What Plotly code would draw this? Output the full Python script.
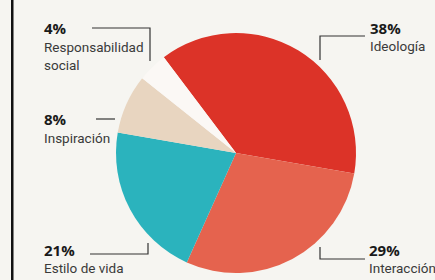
import plotly.graph_objects as go

labels = ["Ideología", "Interacción", "Estilo de vida", "Inspiración", "Responsabilidad social"]
values = [38, 29, 21, 8, 4]
pct_text = ["38%", "29%", "21%", "8%", "4%"]
name_text = ["Ideología", "Interacción", "Estilo de vida", "Inspiración", "Responsabilidad<br>social"]
colors = ["#dc3328", "#e5634e", "#2bb3bd", "#e8d5c0", "#fbf8f5"]

W, H = 435, 280
BG = "#f6f5f1"

def px(x):
    return x / W

def py(y):
    return 1 - y / H

cx, cy, r = 236, 153, 120

fig = go.Figure(go.Pie(
    labels=labels, values=values, sort=False, direction="clockwise",
    rotation=-37, textinfo="none", hoverinfo="label+percent",
    marker=dict(colors=colors, line=dict(width=0)),
    domain=dict(x=[px(cx - r), px(cx + r)], y=[py(cy + r), py(cy - r)]),
    showlegend=False,
))

# label positions in pixels: (x, pct_y, name_y)
label_pos = {
    "Ideología": (368, 28, 46),
    "Interacción": (367, 250, 268),
    "Estilo de vida": (42, 250, 268),
    "Inspiración": (42, 119, 138),
    "Responsabilidad social": (42, 28, 56),
}

annotations = []
for lab, pt, nt in zip(labels, pct_text, name_text):
    x, yp, yn = label_pos[lab]
    annotations.append(dict(x=px(x), y=py(yp), xref="paper", yref="paper", text="<b>" + pt + "</b>",
                            showarrow=False, xanchor="left", yanchor="middle",
                            font=dict(family="Open Sans, Roboto", size=15, color="#1a1a1a")))
    annotations.append(dict(x=px(x), y=py(yn), xref="paper", yref="paper", text=nt,
                            showarrow=False, xanchor="left", yanchor="middle", align="left",
                            font=dict(family="Roboto, Liberation Sans", size=13.5, color="#3a3a3a")))

# connector lines (pixel paths)
connectors = [
    [(92, 28), (150, 28), (150, 61)],
    [(96, 119), (115, 119)],
    [(90, 254), (148, 254), (148, 243)],
    [(365, 36), (320, 36), (320, 60)],
    [(365, 259), (320, 259), (320, 247)],
]
shapes = []
for pts in connectors:
    path = "M " + " L ".join(f"{px(x):.5f},{py(y):.5f}" for x, y in pts)
    shapes.append(dict(type="path", path=path, xref="paper", yref="paper",
                       line=dict(color="#333333", width=1.2)))
shapes.append(dict(type="rect", x0=px(11), x1=px(13.5), y0=0, y1=1, xref="paper", yref="paper",
                   fillcolor="#111111", line=dict(width=0)))

fig.update_layout(
    width=W, height=H, margin=dict(l=0, r=0, t=0, b=0),
    paper_bgcolor=BG, plot_bgcolor=BG,
    annotations=annotations, shapes=shapes,
)

fig.write_html("out.html", config={"displayModeBar": False},
               post_script="document.body.style.margin='0';document.body.style.background='" + BG + "';")
